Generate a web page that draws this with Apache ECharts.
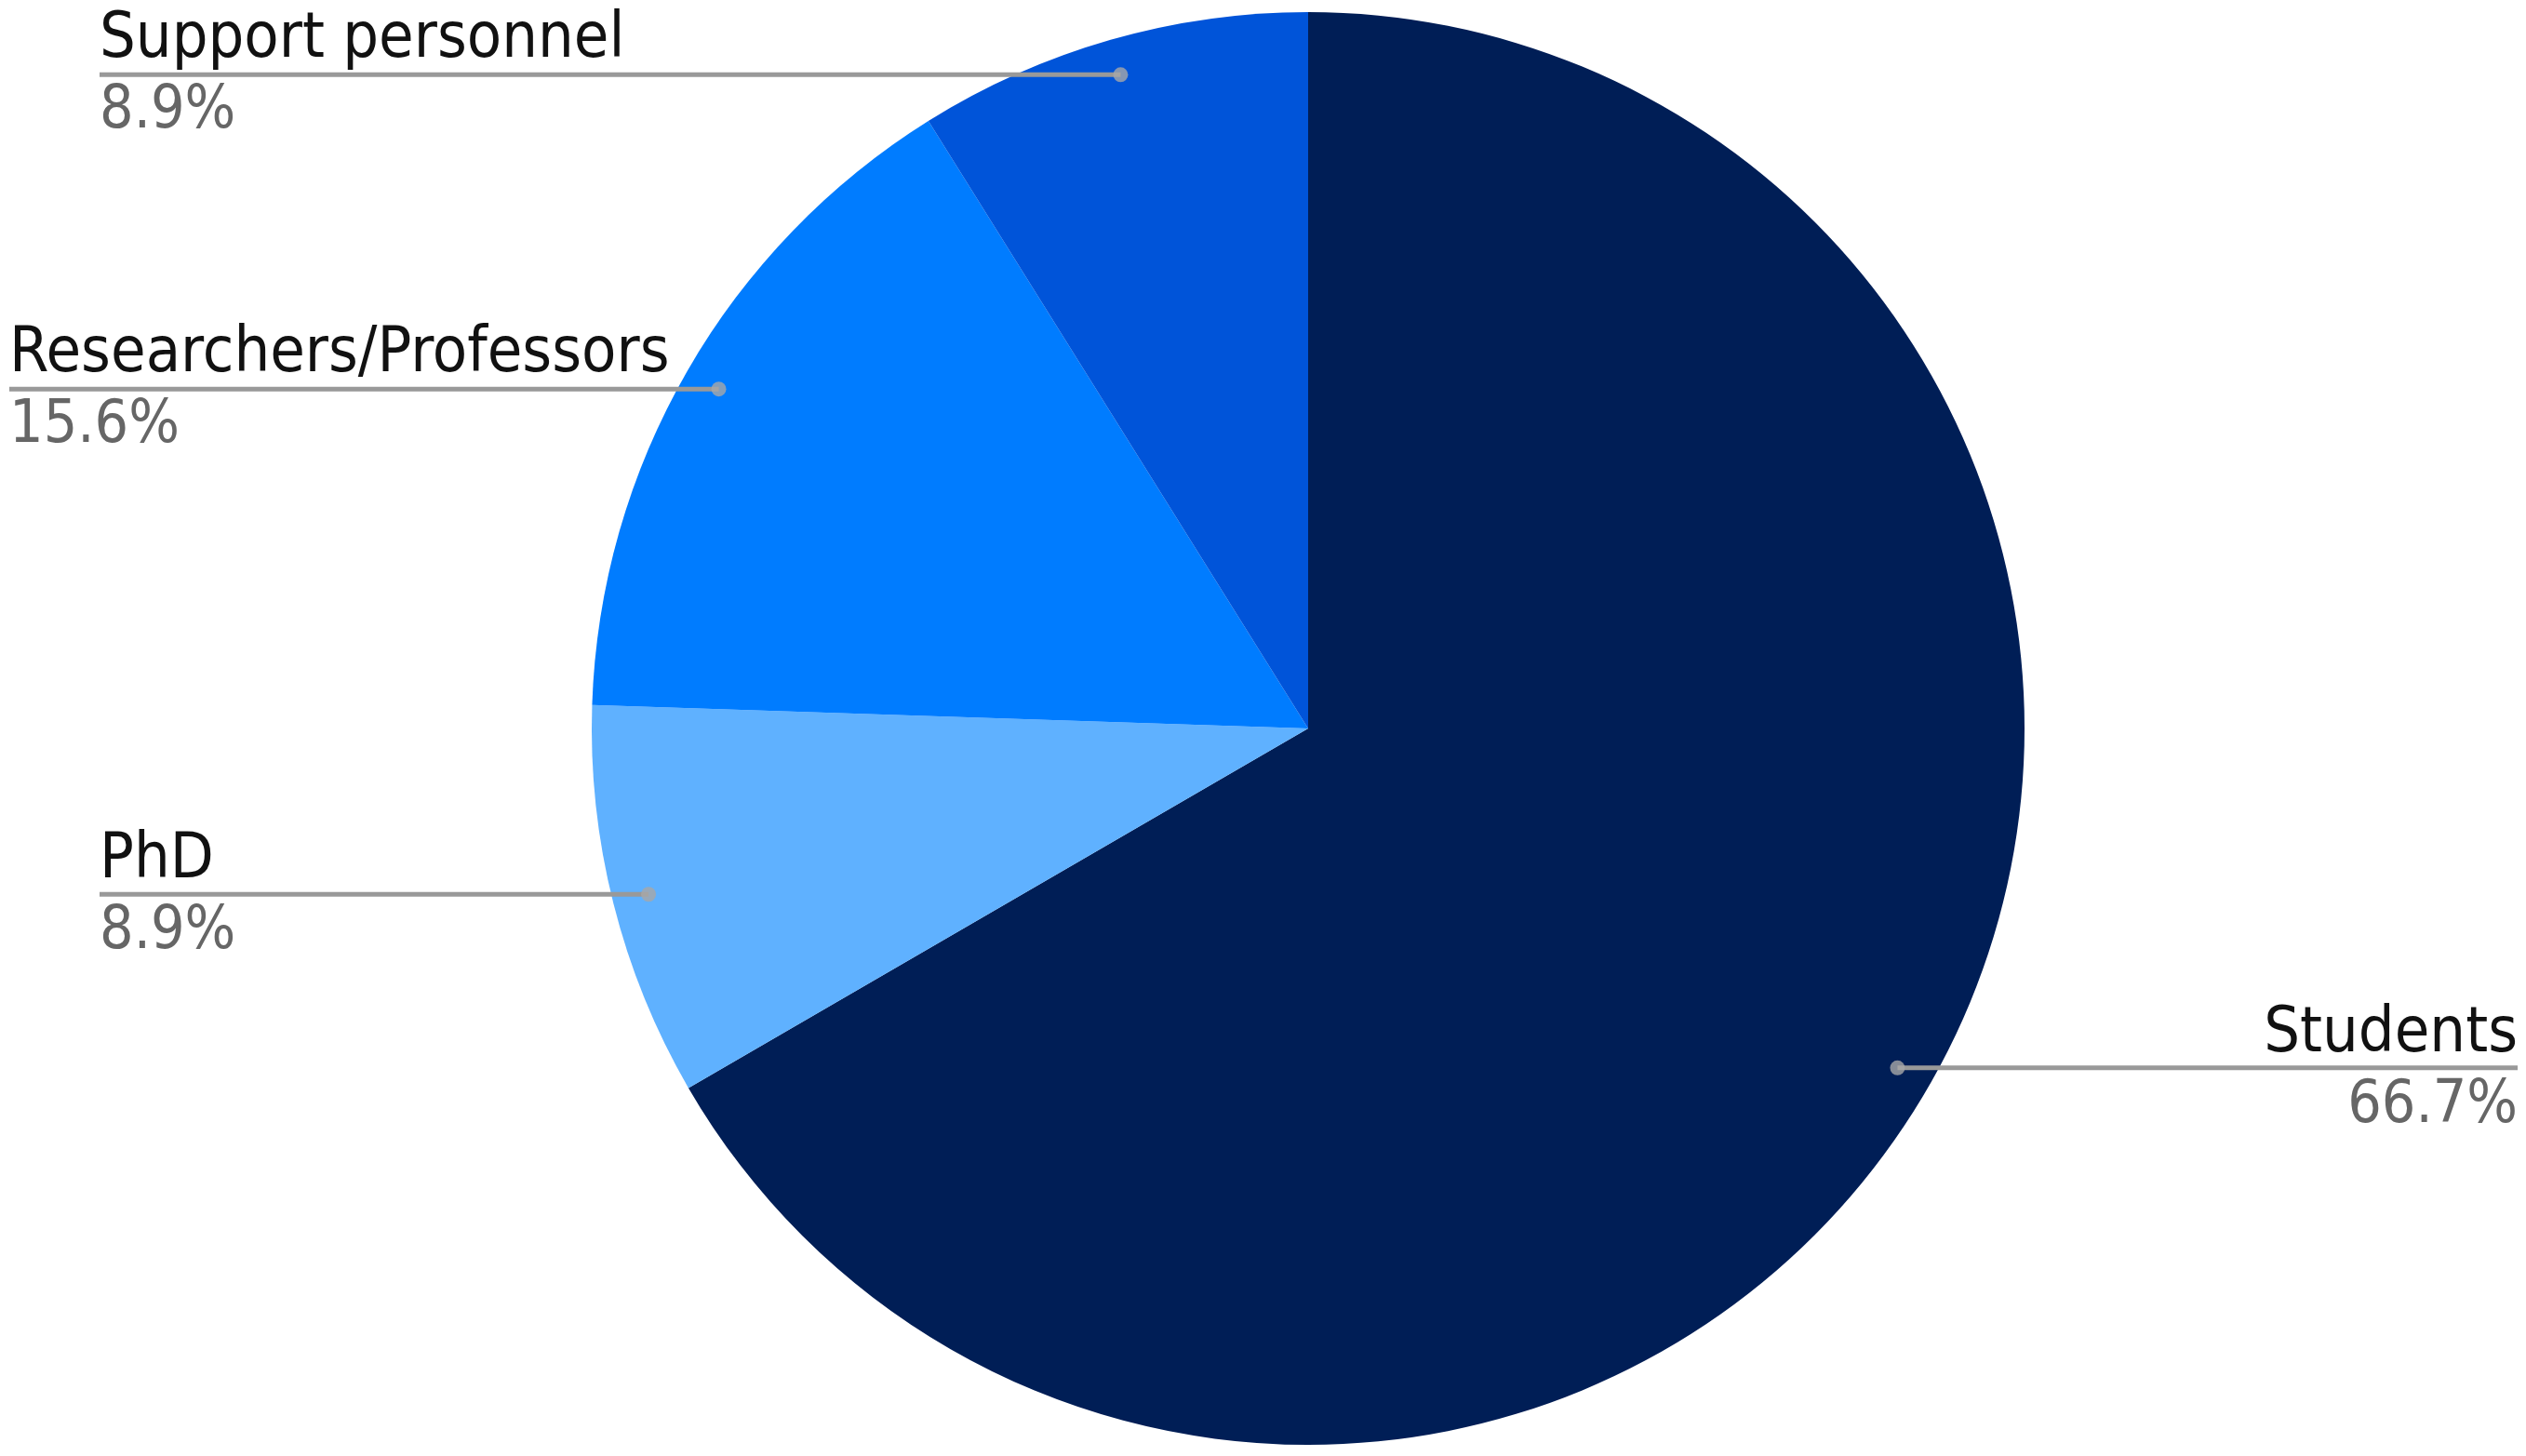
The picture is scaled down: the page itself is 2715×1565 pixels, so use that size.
<!DOCTYPE html>
<html>
<head>
<meta charset="utf-8">
<script src="https://cdn.jsdelivr.net/npm/echarts@6/dist/echarts.min.js"></script>
<style>
html,body{margin:0;padding:0;background:#fff;}
#main{width:2715px;height:1565px;}
</style>
</head>
<body>
<div id="main"></div>
<script>
// Data (clockwise from 12 o'clock)
var categories = ['Students', 'PhD', 'Researchers/Professors', 'Support personnel'];
var percentValues = [66.7, 8.9, 15.6, 8.9];
var sliceColors = ['#001e56', '#5fb1ff', '#007cff', '#0054d9'];
var labelEdgeDistances = [9, 107, 10, 107];

var CX = 1406, CY = 783, R = 770, LABEL_R = 731;
var FONT = "'DejaVu Sans Condensed', 'DejaVu Sans', sans-serif";

var total = percentValues.reduce(function (a, b) { return a + b; }, 0);
var dotData = [];
var run = 0;
percentValues.forEach(function (v) {
  dotData.push([LABEL_R / R, (run + v / 2) / total * 100]);
  run += v;
});

var pieData = categories.map(function (c, i) {
  return { name: c, value: percentValues[i], itemStyle: { color: sliceColors[i] } };
});
var labelData = categories.map(function (c, i) {
  return { name: c, value: percentValues[i], label: { edgeDistance: labelEdgeDistances[i] } };
});

var chart = echarts.init(document.getElementById('main'), null, { renderer: 'canvas' });
chart.setOption({
  backgroundColor: '#ffffff',
  animation: false,
  polar: { center: [CX, CY], radius: R },
  angleAxis: {
    type: 'value', min: 0, max: 100, startAngle: 90, clockwise: true,
    axisLine: { show: false }, axisTick: { show: false }, axisLabel: { show: false }, splitLine: { show: false }
  },
  radiusAxis: {
    type: 'value', min: 0, max: 1,
    axisLine: { show: false }, axisTick: { show: false }, axisLabel: { show: false }, splitLine: { show: false }
  },
  series: [
    {
      type: 'pie',
      center: [CX, CY],
      radius: [0, R],
      startAngle: 90,
      clockwise: true,
      silent: true,
      label: { show: false },
      labelLine: { show: false },
      itemStyle: { borderWidth: 0 },
      data: pieData,
      z: 1
    },
    {
      type: 'pie',
      center: [CX, CY],
      radius: [0, LABEL_R],
      startAngle: 90,
      clockwise: true,
      silent: true,
      itemStyle: { color: 'rgba(0,0,0,0)', borderWidth: 0 },
      label: {
        show: true,
        alignTo: 'edge',
        padding: [5, 0, 0, 0],
        formatter: function (p) { return '{n|' + p.name + '}\n{p|' + p.value + '%}'; },
        rich: {
          n: { fontSize: 68, color: '#111111', lineHeight: 77, fontFamily: FONT },
          p: { fontSize: 64, color: '#666666', lineHeight: 77, fontFamily: FONT }
        }
      },
      labelLine: { show: true, length: 1, length2: 0, lineStyle: { color: '#999999', width: 5 } },
      labelLayout: function (params) {
        var pts = params.labelLinePoints;
        if (!pts) return {};
        var r = params.labelRect;
        var isLeft = (r.x + r.width / 2) < CX;
        var endX = isLeft ? r.x : r.x + r.width;
        return { labelLinePoints: [pts[0], [pts[0][0], pts[0][1]], [endX, pts[0][1]]] };
      },
      data: labelData,
      z: 3
    },
    {
      type: 'scatter',
      coordinateSystem: 'polar',
      symbol: 'circle',
      symbolSize: 16,
      silent: true,
      itemStyle: { color: '#a8a8a8' },
      data: dotData,
      z: 4
    }
  ]
});
</script>
</body>
</html>
